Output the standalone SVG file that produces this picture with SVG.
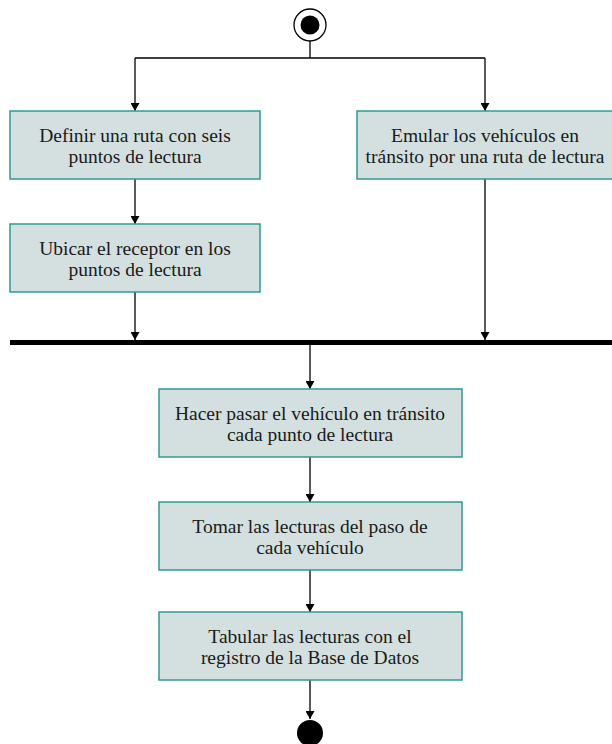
<svg xmlns="http://www.w3.org/2000/svg" width="612" height="744" viewBox="0 0 612 744">
<defs>
<marker id="arr" markerWidth="8" markerHeight="9" refX="8" refY="4.5" orient="auto" markerUnits="userSpaceOnUse">
<path d="M0,0 L8,4.5 L0,9 Z" fill="#000"/>
</marker>
<style>
.box{fill:#d3e0df;stroke:#2f9a94;stroke-width:1.5}
.lbl{font-family:"Liberation Serif","Times New Roman",serif;font-size:19.5px;fill:#1a1a1a;text-anchor:middle}
.ln{stroke:#000;stroke-width:1.3;fill:none}
.la{stroke:#000;stroke-width:1.3;fill:none;marker-end:url(#arr)}
</style>
</defs>
<rect width="612" height="744" fill="#fff"/>
<g id="start">
<circle cx="310" cy="25" r="16" fill="#fff" stroke="#000" stroke-width="1.3"/>
<circle cx="310" cy="25" r="9.5" fill="#000"/>
</g>
<g id="connectors">
<path class="ln" d="M310,41 V58 M135,58 H485"/>
<path class="la" d="M135,58 V111"/>
<path class="la" d="M485,58 V111"/>
<path class="la" d="M135,179 V224"/>
<path class="la" d="M135,292 V340"/>
<path class="la" d="M485,179 V340"/>
<path class="la" d="M310,344 V389"/>
<path class="la" d="M310,457 V502"/>
<path class="la" d="M310,570 V612"/>
<path class="la" d="M310,680 V719"/>
</g>
<g id="fork">
<rect x="10" y="340" width="602" height="5" fill="#000"/>
</g>
<g id="n1">
<rect class="box" x="10" y="111" width="250" height="68"/>
<text class="lbl" x="135" y="142">Definir una ruta con seis</text>
<text class="lbl" x="135" y="163">puntos de lectura</text>
</g>
<g id="n2">
<rect class="box" x="357" y="111" width="257" height="68"/>
<text class="lbl" x="485" y="142">Emular los vehículos en</text>
<text class="lbl" x="485" y="163">tránsito por una ruta de lectura</text>
</g>
<g id="n3">
<rect class="box" x="10" y="224" width="250" height="68"/>
<text class="lbl" x="135" y="255">Ubicar el receptor en los</text>
<text class="lbl" x="135" y="276">puntos de lectura</text>
</g>
<g id="n4">
<rect class="box" x="159" y="389" width="303" height="68"/>
<text class="lbl" x="310" y="420">Hacer pasar el vehículo en tránsito</text>
<text class="lbl" x="310" y="441">cada punto de lectura</text>
</g>
<g id="n5">
<rect class="box" x="159" y="502" width="303" height="68"/>
<text class="lbl" x="310" y="533">Tomar las lecturas del paso de</text>
<text class="lbl" x="310" y="554">cada vehículo</text>
</g>
<g id="n6">
<rect class="box" x="159" y="612" width="303" height="68"/>
<text class="lbl" x="310" y="643">Tabular las lecturas con el</text>
<text class="lbl" x="310" y="664">registro de la Base de Datos</text>
</g>
<g id="end">
<circle cx="310" cy="733" r="13" fill="#000"/>
</g>
</svg>
